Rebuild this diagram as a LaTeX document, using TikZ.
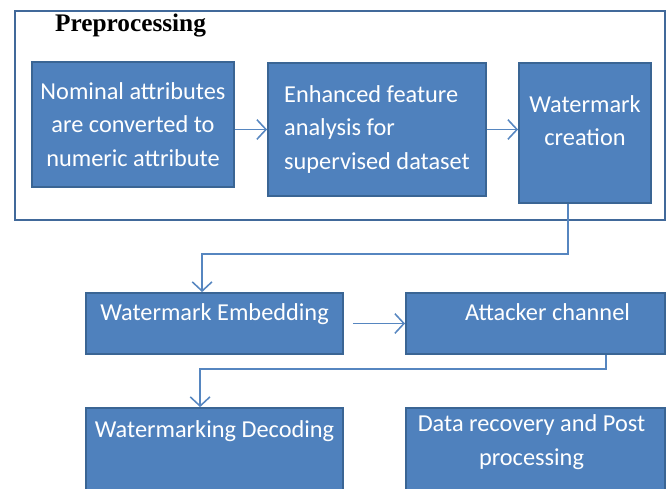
\documentclass[tikz,border=0pt]{standalone}
\usepackage{fontspec}
\setmainfont{Carlito}
\newfontfamily\titlefont{Liberation Serif}
\usetikzlibrary{positioning,arrows.meta}
\definecolor{blkfill}{HTML}{4F81BD}
\definecolor{blkborder}{HTML}{3A6594}
\definecolor{flowcol}{HTML}{5686C0}
\definecolor{frmcol}{HTML}{41699A}
\begin{document}
\begin{tikzpicture}[x=0.025cm, y=-0.025cm,
        blk/.style={draw=blkborder, fill=blkfill, line width=1.3pt, inner sep=0pt},
        txt/.style={text=white, font=\fontsize{17.3}{24}\selectfont, align=center, inner sep=0pt},
        flow/.style={draw=flowcol, line width=1.1pt, -{Straight Barb[length=6.5pt,width=14pt]}},
        frm/.style={draw=frmcol, line width=1.6pt, inner sep=0pt}]
        % Rahmen
        \clip (0,0) rectangle (668,488);
        \node[frm, minimum width=16.25cm, minimum height=5.225cm] (pre) at (340,115.5) {};
        \node[font=\titlefont\bfseries\fontsize{18}{20}\selectfont, inner sep=0pt] (title) at (130.5,26) {Preprocessing};

        % Vorverarbeitung
        \node[blk, txt, minimum width=5.05cm, minimum height=3.125cm] (nom) at (133,124.5)
        {Nominal attributes\\are converted to\\numeric attribute};
        \node[blk, txt, align=left, minimum width=5.45cm, minimum height=3.325cm] (enh) at (377,129.5)
        {Enhanced feature\\analysis for\\supervised dataset};
        \node[blk, minimum width=3.3cm, minimum height=3.5cm] (crt) at (585,133) {};
        \node[txt, below=0.82cm of crt.north] (crttxt) {Watermark\\creation};

        % Einbetten und Angriff
        \node[blk, minimum width=6.425cm, minimum height=1.525cm] (emb) at (214.5,323.5) {};
        \node[txt, below=0.28cm of emb.north] (embtxt) {Watermark Embedding};
        \node[blk, minimum width=6.475cm, minimum height=1.525cm] (atk) at (535.5,323.5) {};
        \node[txt, below=0.28cm of atk.north, xshift=0.3cm] (atktxt) {Attacker channel};

        % Dekodieren und Wiederherstellung
        \node[blk, minimum width=6.425cm, minimum height=2.3cm] (dec) at (214.5,454) {};
        \node[txt, below=0.32cm of dec.north] (dectxt) {Watermarking Decoding};
        \node[blk, minimum width=6.475cm, minimum height=2.3cm] (rec) at (535.5,454) {};
        \node[txt, below=0.18cm of rec.north, xshift=-0.1cm] (rectxt) {Data recovery and Post\\processing};

        % Pfeile
        \draw[flow] (nom.east |- enh.west) -- (enh.west);
        \draw[flow] (enh.east) -- (crt.west |- enh.east);
        \draw[flow] ([xshift=-0.42cm]crt.south) -- ++(0,50) -| ([xshift=-0.31cm]emb.north);
        \draw[flow] ([xshift=0.225cm]emb.east) -- (atk.west);
        \draw[flow] ([xshift=1.76cm]atk.south) -- ++(0,14) -| ([xshift=-0.36cm]dec.north);
\end{tikzpicture}
\end{document}
